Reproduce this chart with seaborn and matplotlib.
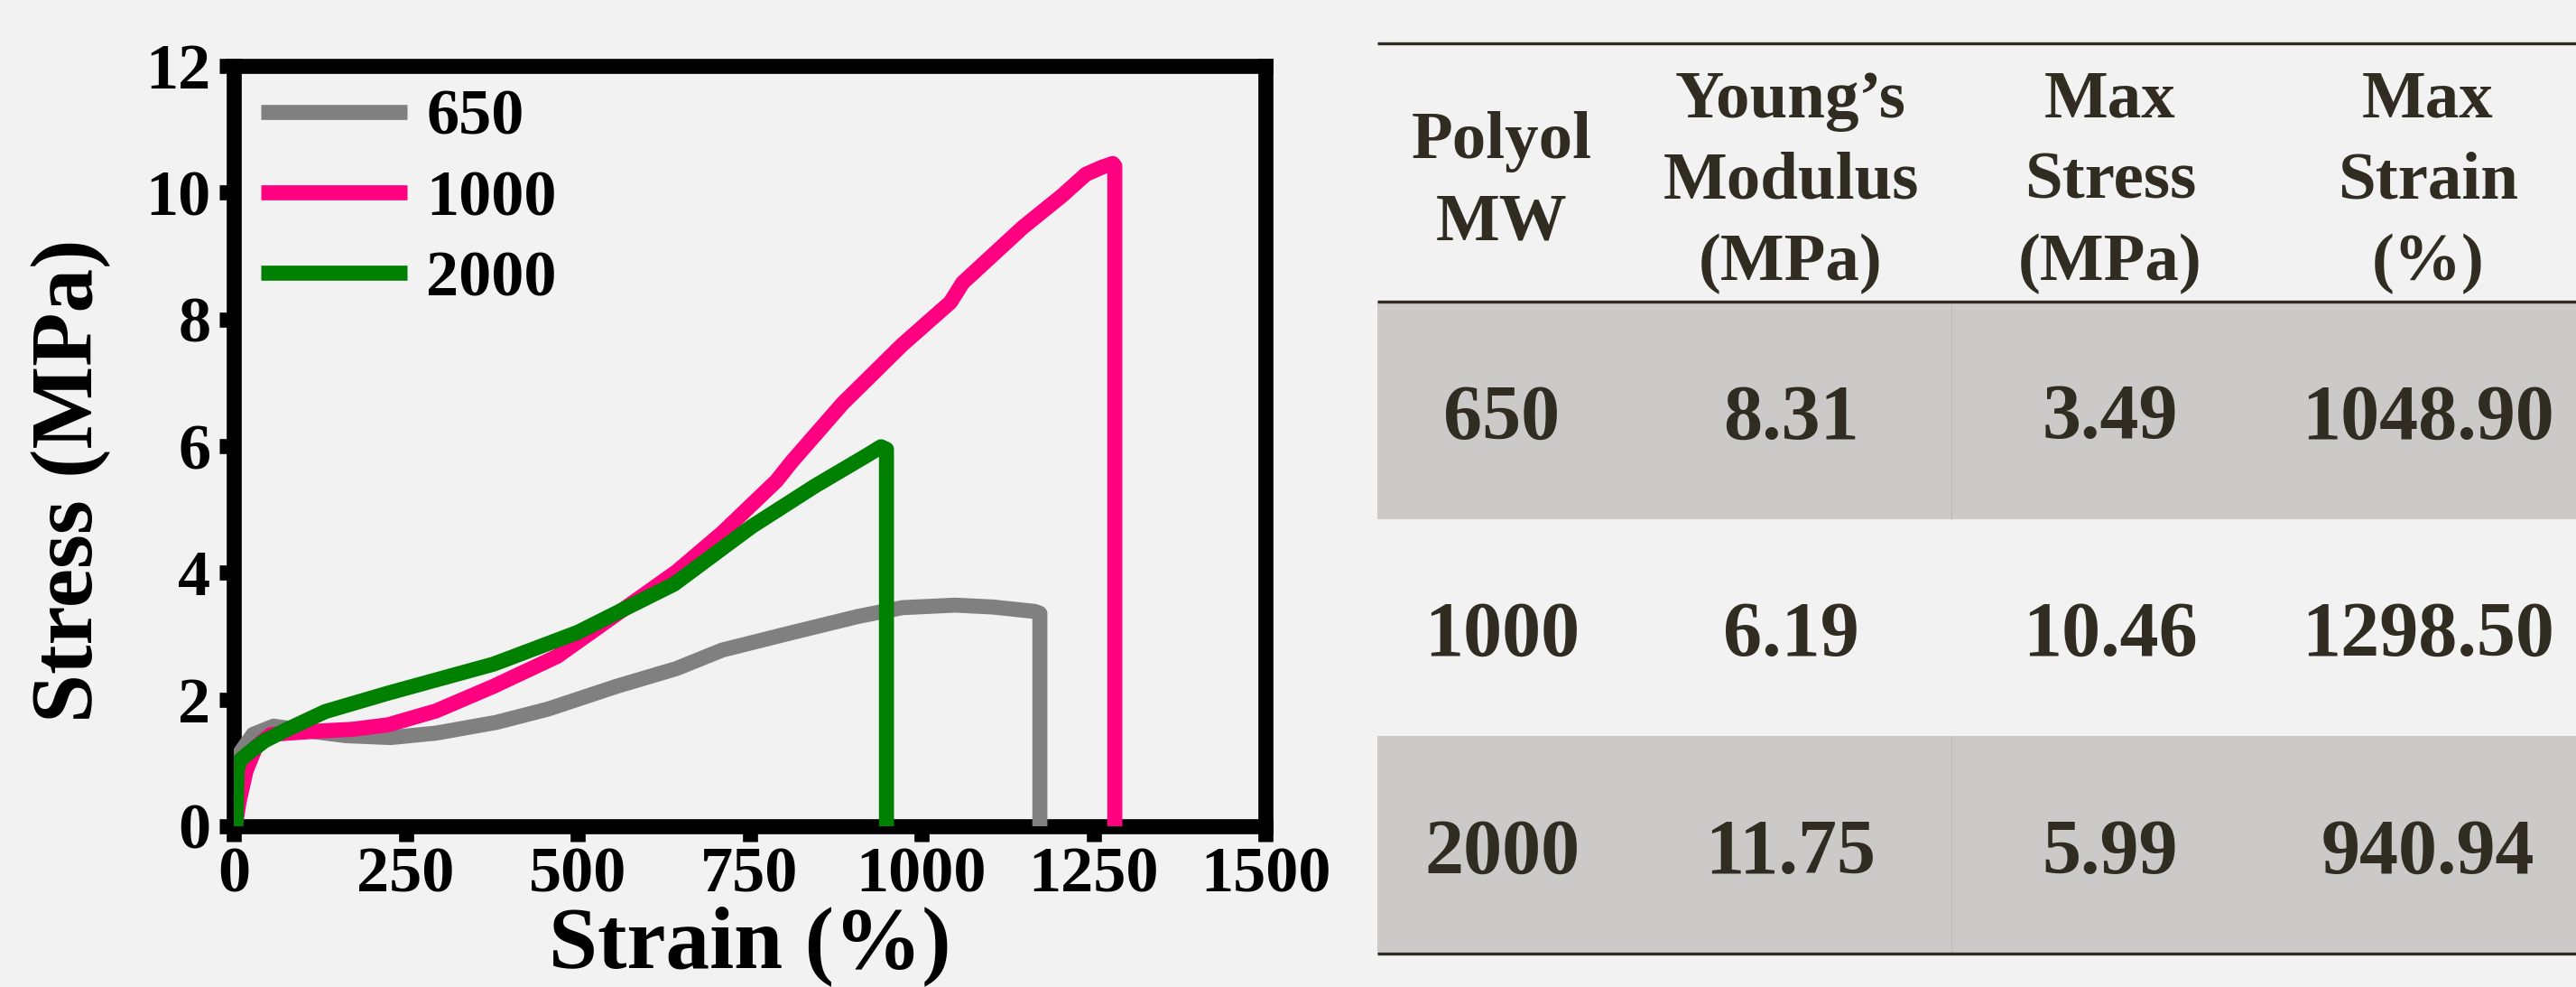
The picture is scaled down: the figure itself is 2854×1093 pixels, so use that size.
import matplotlib
matplotlib.use("Agg")
import matplotlib.pyplot as plt
from matplotlib.lines import Line2D
from matplotlib.patches import Rectangle
import numpy as np
import pandas as pd
import seaborn as sns

# ---- stress-strain curves -------------------------------------------------
series_names = ["650", "1000", "2000"]
series_colors = ["#808080", "#ff0080", "#008000"]

strain_650 = [0, 3, 10, 28, 58, 97, 163, 228, 294, 382, 457, 557, 644, 710,
              798, 907, 972, 1048.9, 1104, 1165, 1172, 1172]
stress_650 = [0, 0.6, 1.17, 1.45, 1.58, 1.52, 1.43, 1.40, 1.47, 1.64, 1.85,
              2.21, 2.49, 2.78, 3.02, 3.31, 3.45, 3.49, 3.46, 3.39, 3.36, 0]

strain_1000 = [2, 8, 18, 32, 54, 119, 172, 224, 294, 378, 470, 557, 644, 710,
               789, 811, 885, 972, 1042, 1060, 1147, 1204, 1239, 1262, 1278,
               1281, 1281]
stress_1000 = [0, 0.4, 0.88, 1.25, 1.45, 1.50, 1.53, 1.60, 1.82, 2.21, 2.68,
               3.35, 4.02, 4.63, 5.45, 5.75, 6.67, 7.60, 8.27, 8.58, 9.45,
               9.95, 10.29, 10.40, 10.46, 10.42, 0]

strain_2000 = [3, 5, 10, 23, 45, 76, 133, 224, 378, 500, 579, 640, 753, 845,
               920, 940.94, 949, 949]
stress_2000 = [0, 0.9, 1.05, 1.17, 1.35, 1.52, 1.81, 2.10, 2.56, 3.06, 3.49,
               3.82, 4.73, 5.37, 5.85, 5.99, 5.95, 0]

x_ticks = [0, 250, 500, 750, 1000, 1250, 1500]
y_ticks = [0, 2, 4, 6, 8, 10, 12]

# ---- summary table --------------------------------------------------------
table_headers = [["Polyol", "MW"],
                 ["Young\u2019s", "Modulus", "(MPa)"],
                 ["Max", "Stress", "(MPa)"],
                 ["Max", "Strain", "(%)"]]
polyol_mw = ["650", "1000", "2000"]
youngs_modulus = ["8.31", "6.19", "11.75"]
max_stress = ["3.49", "10.46", "5.99"]
max_strain = ["1048.90", "1298.50", "940.94"]

# ---- styling --------------------------------------------------------------
BG = "#f2f2f2"
INK = "#302c22"
ROW_SHADE = "#cbcac8"
W, H = 2854, 1093

sns.set_style("ticks")
plt.rcParams["font.family"] = ["Liberation Serif", "DejaVu Serif"]
plt.rcParams["font.weight"] = "bold"
plt.rcParams["axes.labelweight"] = "bold"
plt.rcParams["text.color"] = "black"
plt.rcParams["axes.labelcolor"] = "black"

fig = plt.figure(figsize=(W / 100, H / 100), dpi=100, facecolor=BG)
ax = fig.add_axes([259 / W, 1 - 915 / H, (1402 - 259) / W, (915 - 73) / H])
ax.set_facecolor(BG)

frames = []
for name, xs, ys in [("650", strain_650, stress_650),
                     ("1000", strain_1000, stress_1000),
                     ("2000", strain_2000, stress_2000)]:
    frames.append(pd.DataFrame({"Strain": xs, "Stress": ys, "MW": name}))
df = pd.concat(frames, ignore_index=True)

palette = dict(zip(series_names, series_colors))
sns.lineplot(data=df, x="Strain", y="Stress", hue="MW", hue_order=series_names,
             palette=palette, estimator=None, sort=False, linewidth=12,
             legend=False, ax=ax, solid_capstyle="butt",
             solid_joinstyle="round", zorder=3)

ax.set_xlim(0, 1500)
ax.set_ylim(0, 12)
ax.set_xticks(x_ticks)
ax.set_yticks(y_ticks)
ax.set_xticklabels([str(v) for v in x_ticks])
ax.set_yticklabels([str(v) for v in y_ticks])

for sp in ax.spines.values():
    sp.set_visible(True)
    sp.set_linewidth(12)
    sp.set_color("black")
    sp.set_zorder(2)

ax.tick_params(axis="both", which="major", direction="out", width=12,
               color="black", labelsize=52, labelcolor="black")
ax.tick_params(axis="x", length=12, pad=4)
ax.tick_params(axis="y", length=11.5, pad=7)
for lab in ax.get_xticklabels() + ax.get_yticklabels():
    lab.set_fontweight("bold")

ax.set_xlabel("Strain (%)", fontsize=70, fontweight="bold", color="black")
ax.set_ylabel("Stress (MPa)", fontsize=70, fontweight="bold", color="black")
ax.xaxis.label.set_va("baseline")
ax.xaxis.set_label_coords(0.5, -0.186)
ax.yaxis.label.set_va("center")
ax.yaxis.set_label_coords(-0.158, 0.455)

handles = [Line2D([], [], color=c, lw=12, solid_capstyle="butt")
           for c in series_colors]
ax.legend(handles, series_names, loc="upper left",
          bbox_to_anchor=(0.026, 0.97), frameon=False, handlelength=2.25,
          handletextpad=0.29, labelspacing=0.33, borderpad=0, borderaxespad=0,
          labelcolor="black", prop={"size": 52, "weight": "bold"})

# ---- table drawn on a full-figure overlay in pixel units ------------------
tab = fig.add_axes([0, 0, 1, 1])
tab.set_xlim(0, W)
tab.set_ylim(H, 0)
tab.axis("off")
tab.patch.set_alpha(0)

t_left, t_right = 1526, W
t_top, t_head = 48, 334
row_edges = [334, 575, 815, 1056]
col_centers = [1664, 1984, 2338, 2690]
shade_rows = [0, 2]

for r in shade_rows:
    tab.add_patch(Rectangle((t_left, row_edges[r]), t_right - t_left,
                            row_edges[r + 1] - row_edges[r],
                            facecolor=ROW_SHADE, edgecolor="none", zorder=1))
    tab.plot([2162, 2162], [row_edges[r], row_edges[r + 1]], color="#bdbcba",
             lw=0.8, zorder=2)

for yy in [t_top, t_head, row_edges[-1]]:
    tab.plot([t_left, t_right], [yy, yy], color=INK, lw=2.4,
             solid_capstyle="butt", zorder=3)

head_center, head_step = 220, 90
for cx, lines in zip(col_centers, table_headers):
    n = len(lines)
    for i, txt in enumerate(lines):
        yb = head_center + (i - (n - 1) / 2) * head_step
        tab.text(cx, yb, txt, ha="center", va="baseline", fontsize=54,
                 fontweight="bold", color=INK, zorder=4)

columns = [polyol_mw, youngs_modulus, max_stress, max_strain]
for r in range(3):
    yc = (row_edges[r] + row_edges[r + 1]) / 2
    for cx, col in zip(col_centers, columns):
        tab.text(cx, yc + 31, col[r], ha="center", va="baseline",
                 fontsize=62, fontweight="bold", color=INK, zorder=4)

fig.savefig("out.png", dpi=100, facecolor=BG)
